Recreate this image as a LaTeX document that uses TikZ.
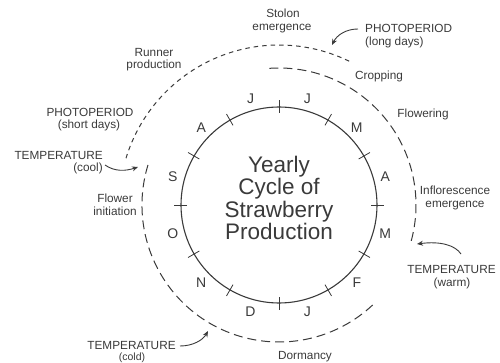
\documentclass[tikz,border=0pt]{standalone}
\usepackage{fontspec}
\setmainfont{Liberation Sans}
\usetikzlibrary{arrows.meta}
\definecolor{ink}{HTML}{3A3A3A}
\begin{document}
\begin{tikzpicture}[x=1pt,y=-1pt,
  lbl/.style={font=\fontsize{11.8}{12}\selectfont, text=ink, inner sep=0pt, anchor=base},
  mon/.style={font=\fontsize{14}{14}\selectfont, text=ink, inner sep=0pt},
  big/.style={font=\fontsize{22.5}{23}\selectfont, text=ink, inner sep=0pt, anchor=base},
  arr/.style={draw=ink, line width=0.9pt, -{Stealth[length=6pt,width=5pt]}},
  ring/.style={draw=ink, line width=1.1pt},
  tick/.style={draw=ink, line width=0.8pt},
  longdash/.style={draw=ink, line width=1pt, dash pattern=on 9pt off 5pt},
  shortdash/.style={draw=ink, line width=1pt, dash pattern=on 4.5pt off 4pt},
]
\useasboundingbox (0,0) rectangle (500,363);

\begin{scope}[shift={(279,205)}, x=1pt, y=1pt]
  \draw[ring] (0,0) circle (98);
  \foreach \a in {0,30,...,330} \draw[tick] (\a:92) -- (\a:105);
  \foreach \m [count=\i] in {A,M,J,J,A,S,O,N,D,J,F,M}
    \node[mon] (mon\i) at ({15+30*(\i-1)}:110) {\m};
  \draw[longdash] (94:137) arc (94:-17:137);
  \draw[longdash] (163:137) arc (163:315:137);
  \draw[shortdash] (64:160) arc (64:163:160);
\end{scope}

% centre title
\node[big] (t1) at (279,173) {Yearly};
\node[big] (t2) at (279,195) {Cycle of};
\node[big] (t3) at (279,218) {Strawberry};
\node[big] (t4) at (279,240) {Production};

% labels
\node[lbl] (stol1) at (283,18) {Stolon};
\node[lbl] (stol2) at (282,31) {emergence};
\node[lbl, anchor=base west] (pl1) at (365,33) {PHOTOPERIOD};
\node[lbl, anchor=base west] (pl2) at (365,46) {(long days)};
\node[lbl] (crop) at (379,80) {Cropping};
\node[lbl] (flow) at (423,118) {Flowering};
\node[lbl] (inf1) at (455,195) {Inflorescence};
\node[lbl] (inf2) at (455,208) {emergence};
\node[lbl] (tw1) at (451.5,273) {TEMPERATURE};
\node[lbl] (tw2) at (452,286) {(warm)};
\node[lbl] (dorm) at (305,359) {Dormancy};
\node[lbl] (tc1) at (131.5,349) {TEMPERATURE};
\node[lbl, font=\fontsize{10.5}{11}\selectfont] (tc2) at (132,360.5) {(cold)};
\node[lbl] (fi1) at (115,203) {Flower};
\node[lbl] (fi2) at (115,216) {initiation};
\node[lbl, anchor=base east] (tk1) at (103,160) {TEMPERATURE};
\node[lbl, anchor=base east] (tk2) at (103,172) {(cool)};
\node[lbl] (ps1) at (90,117) {PHOTOPERIOD};
\node[lbl] (ps2) at (89,129) {(short days)};
\node[lbl] (run1) at (154,57) {Runner};
\node[lbl] (run2) at (154,69) {production};

% arrows
\coordinate (coolS) at (105,165);
\coordinate (coolE) at (138,167);
\draw[arr] (coolS) .. controls (115,172) and (126,171) .. (coolE);
\coordinate (longS) at (358,29);
\coordinate (longE) at (332,45);
\draw[arr] (longS) .. controls (346,29) and (337,35) .. (longE);
\coordinate (warmS) at (461,254);
\coordinate (warmE) at (417,244);
\draw[arr] (warmS) .. controls (455,245) and (440,241) .. (warmE);
\coordinate (coldS) at (180,346);
\coordinate (coldE) at (208,331);
\draw[arr] (coldS) .. controls (193,346) and (203,340) .. (coldE);
\end{tikzpicture}
\end{document}
